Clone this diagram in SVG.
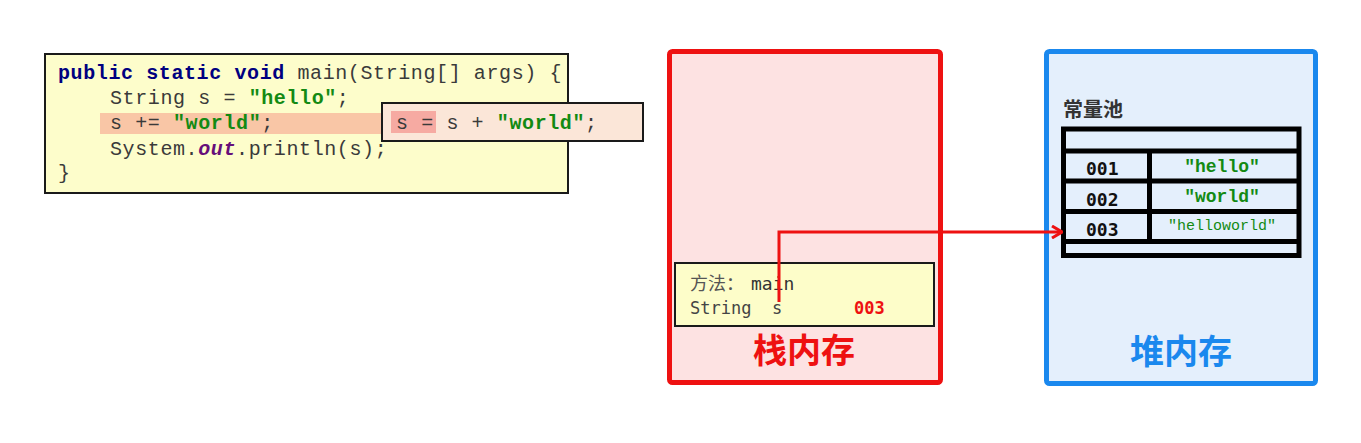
<svg xmlns="http://www.w3.org/2000/svg" width="1361" height="443" viewBox="0 0 1361 443">
<defs>
<style>
.code{font-family:"Liberation Mono","Courier New",monospace;font-size:20px;letter-spacing:0.6px;fill:#3a3a3a;white-space:pre}
.kw{font-weight:bold;fill:#000080}
.str{font-weight:bold;fill:#138a13}
.out{font-weight:bold;font-style:italic;fill:#660e7a}
.mono{font-family:"DejaVu Sans Mono","Liberation Mono",monospace;white-space:pre}
.cjk{font-family:"Noto Sans CJK SC","Noto Sans",sans-serif}
.frame{stroke:#1a1a1a;stroke-width:2}
.tbl{fill:none;stroke:#000;stroke-width:5}
.addr{font-family:"DejaVu Sans Mono","Liberation Mono",monospace;font-weight:bold;font-size:18px;fill:#111}
.val{font-family:"Liberation Mono","Courier New",monospace;fill:#138a13;text-anchor:middle}
</style>
<marker id="chev" viewBox="0 0 12 14" refX="11" refY="7" markerWidth="12" markerHeight="14" markerUnits="userSpaceOnUse" orient="auto">
<polyline points="1,1 11,7 1,13" fill="none" stroke="#ee1111" stroke-width="3"/>
</marker>
</defs>
<rect width="1361" height="443" fill="#ffffff"/>

<g id="code">
<rect x="45" y="54" width="523" height="139" fill="#fdfdcb" class="frame"/>
<rect x="100" y="113" width="282" height="21" fill="#f9c6a6"/>
<text class="code" x="58" y="79"><tspan class="kw">public static void</tspan> main(String[] args) {</text>
<text class="code" x="110" y="104">String s = <tspan class="str">"hello"</tspan>;</text>
<text class="code" x="110" y="129">s += <tspan class="str">"world"</tspan>;</text>
<text class="code" x="110" y="155">System.<tspan class="out">out</tspan>.println(s);</text>
<text class="code" x="58" y="179">}</text>
</g>

<g id="popup">
<rect x="382" y="103" width="261" height="38" fill="#fbe6d8" class="frame"/>
<rect x="391" y="111" width="45" height="22" fill="#f6aaa2"/>
<text class="code" x="396" y="129">s = s + <tspan class="str">"world"</tspan>;</text>
</g>

<g id="stack">
<rect x="669.5" y="51.5" width="271" height="331" rx="3" fill="#fde2e2" stroke="#ee1111" stroke-width="5"/>
<rect x="675" y="263" width="259" height="63" fill="#fdfdc9" class="frame"/>
<text class="cjk" x="690" y="290" font-size="18" fill="#555">方法：</text>
<text class="mono" x="751" y="290" font-size="18" fill="#333">main</text>
<text class="mono" x="690" y="314" font-size="17" fill="#444">String  s</text>
<text class="mono" x="854" y="314" font-size="17" font-weight="bold" fill="#ee1111">003</text>
<text class="cjk" x="804" y="363" font-size="34" font-weight="bold" fill="#ee1111" text-anchor="middle">栈内存</text>
</g>

<g id="heap">
<rect x="1046.5" y="51.5" width="269" height="332" rx="3" fill="#e4effc" stroke="#1a88ee" stroke-width="5"/>
<text class="cjk" x="1063" y="117" font-size="20" font-weight="bold" fill="#333">常量池</text>
<text class="cjk" x="1181" y="364" font-size="34" font-weight="bold" fill="#1a88ee" text-anchor="middle">堆内存</text>
</g>

<g id="constant-pool">
<rect x="1063.5" y="129" width="235.5" height="126.5" class="tbl"/>
<line x1="1063.5" y1="151" x2="1299" y2="151" class="tbl"/>
<line x1="1063.5" y1="181" x2="1299" y2="181" class="tbl"/>
<line x1="1063.5" y1="211.5" x2="1299" y2="211.5" class="tbl"/>
<line x1="1063.5" y1="241.5" x2="1299" y2="241.5" class="tbl"/>
<line x1="1149.5" y1="151" x2="1149.5" y2="241.5" class="tbl"/>
<text class="addr" x="1086" y="175" font-size="19">001</text>
<text class="addr" x="1086" y="206" font-size="19">002</text>
<text class="addr" x="1086" y="236" font-size="19">003</text>
<text class="val" x="1222" y="172" font-size="18" font-weight="bold">"hello"</text>
<text class="val" x="1222" y="202" font-size="18" font-weight="bold">"world"</text>
<text class="val" x="1222" y="230" font-size="15">"helloworld"</text>
</g>

<g id="connectors">
<path d="M779,302 V232 H1062" fill="none" stroke="#ee1111" stroke-width="3" marker-end="url(#chev)"/>
</g>
</svg>
